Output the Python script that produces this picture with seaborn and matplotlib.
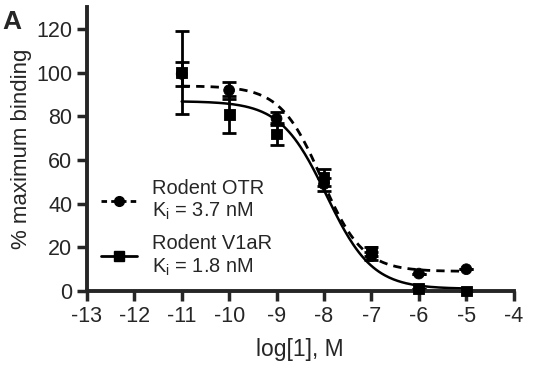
import numpy as np
import pandas as pd
import matplotlib
matplotlib.use("Agg")
import matplotlib.pyplot as plt
import seaborn as sns

# measured points (log M, % max binding, error)
log_conc = [-11, -10, -9, -8, -7, -6, -5]
otr_mean = [99.5, 92, 79, 49, 16, 8, 10]
otr_err = [5.5, 4, 3, 3, 2, 0, 0]
v1a_mean = [100, 81, 72, 52, 18, 1, 0]
v1a_err = [19, 8.5, 5, 4, 2, 0, 0]

# fit parameters of the one-site competition curves (top, bottom, logIC50, hill)
otr_fit = [94, 9, -8.05, 1.0]
v1a_fit = [87, 1, -7.95, 0.9]

otr_label = "Rodent OTR\nK$_\\mathregular{i}$ = 3.7 nM"
v1a_label = "Rodent V1aR\nK$_\\mathregular{i}$ = 1.8 nM"

sns.set_style("ticks")
plt.rcParams['font.family'] = ['Liberation Sans', 'DejaVu Sans']
plt.rcParams['axes.unicode_minus'] = False


def curve(fit):
    xs = np.linspace(-11, -5, 200)
    top, bottom, logic50, hill = fit
    return xs, bottom + (top - bottom) / (1 + 10 ** (hill * (xs - logic50)))


fig = plt.figure(figsize=(5.53, 3.86), dpi=100)
ax = fig.add_axes([0.157, 0.246, 0.772, 0.735])

xs, ys = curve(otr_fit)
sns.lineplot(x=xs, y=ys, ax=ax, color='black', lw=2, linestyle=(0, (3, 2.2)))
xs, ys = curve(v1a_fit)
sns.lineplot(x=xs, y=ys, ax=ax, color='black', lw=1.8)

ax.errorbar(log_conc, otr_mean, yerr=otr_err, fmt='none', ecolor='black',
            elinewidth=2, capsize=5, capthick=2, clip_on=False)
ax.errorbar(log_conc, v1a_mean, yerr=v1a_err, fmt='none', ecolor='black',
            elinewidth=2, capsize=5, capthick=2, clip_on=False)

df = pd.DataFrame({'x': log_conc * 2,
                   'y': otr_mean + v1a_mean,
                   'series': ['otr'] * 7 + ['v1a'] * 7})
sns.scatterplot(data=df, x='x', y='y', style='series',
                markers={'otr': 'o', 'v1a': 's'}, color='black', s=60,
                edgecolor='black', ax=ax, legend=False, clip_on=False, zorder=5)

# legend handles
h1, = ax.plot([], [], color='black', lw=2, linestyle=(0, (2, 1.5)),
              marker='o', markersize=7)
h2, = ax.plot([], [], color='black', lw=2, marker='s', markersize=7)
ax.legend([h1, h2], [otr_label, v1a_label], loc='upper left',
          bbox_to_anchor=(-0.01, 0.46), frameon=False, fontsize=14.4,
          handlelength=1.8, handletextpad=0.75, labelspacing=0.6)

ax.set_xlim(-13, -4)
ax.set_ylim(0, 130)
ax.set_xticks(range(-13, -3))
ax.set_yticks(range(0, 121, 20))
ax.set_xlabel("log[1], M", fontsize=16.5, labelpad=8)
ax.set_ylabel("% maximum binding", fontsize=16, labelpad=3)
ax.tick_params(width=2.5, length=7, labelsize=15.5)
for s in ['left', 'bottom']:
    ax.spines[s].set_linewidth(2.8)
sns.despine(ax=ax)

fig.text(0.005, 0.925, "A", fontsize=19, fontweight='bold')

fig.savefig("out.png", dpi=100)
